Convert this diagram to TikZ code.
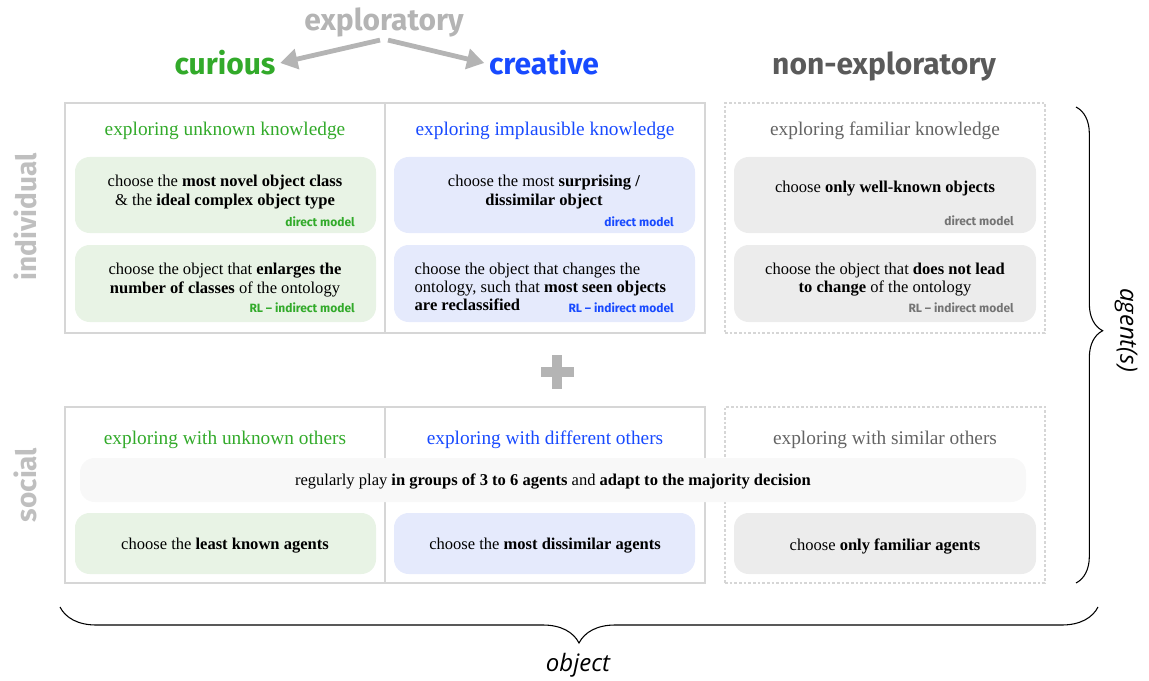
\documentclass[tikz,border=0pt]{standalone}
\usepackage{fontspec}
\setmainfont{Liberation Serif}
\setsansfont{Fira Sans}
\newfontfamily\itsans{Open Sans}
\usepackage{tikz}
\usetikzlibrary{arrows.meta}
\usetikzlibrary{fit}
\usetikzlibrary{decorations.pathreplacing}
\definecolor{cgreen}{RGB}{50,170,42}
\definecolor{cblue}{RGB}{24,74,255}
\definecolor{cgray}{RGB}{100,100,100}
\definecolor{lgray}{RGB}{180,180,180}
\definecolor{fgreen}{RGB}{232,243,229}
\definecolor{fblue}{RGB}{229,234,252}
\definecolor{fgray}{RGB}{236,236,236}
\definecolor{fpill}{RGB}{248,248,248}
\definecolor{cline}{RGB}{214,214,214}

\begin{document}
\begin{tikzpicture}[x=0.75pt,y=-0.75pt,
  cell/.style={draw=cline,line width=0.8pt,inner sep=0pt},
  dcell/.style={draw=cline,line width=0.8pt,dash pattern=on 2pt off 1.5pt,inner sep=0pt},
  pill/.style={rounded corners=11pt,inner sep=0pt},
  head/.style={font=\sffamily\bfseries\fontsize{22.5}{26}\selectfont},
  side/.style={font=\sffamily\bfseries\fontsize{21}{24}\selectfont,text=lgray!85!white},
  ttl/.style={font=\fontsize{14.5}{17}\selectfont},
  txt/.style={font=\fontsize{12.4}{13.6}\selectfont,align=center},
  mlab/.style={font=\sffamily\bfseries\fontsize{9}{10}\selectfont,anchor=east,inner sep=0pt},
  lab/.style={font=\itsans\itshape\fontsize{18}{20}\selectfont}]
\useasboundingbox (0,0) rectangle (1149,681);

\node (EX) at (384,22) [head,text=lgray] {exploratory};
\node (CU) at (225,63) [head,text=cgreen] {curious};
\node (CR) at (544,63) [head,text=cblue] {creative};
\node (NE) at (884,66) [head,text=cgray!90!black] {non-exploratory};
\draw[-{Triangle[length=13pt,width=15pt]},line width=3.6pt,lgray] ([xshift=-3pt,yshift=1pt]EX.south) -- (CU.east);
\draw[-{Triangle[length=13pt,width=15pt]},line width=3.6pt,lgray] ([xshift=3pt,yshift=1pt]EX.south) -- (CR.west);

\node (IA) [cell,fit={(65,103) (385,333)}]{};
\node (IB) [cell,fit={(385,103) (705,333)}]{};
\node (IC) [dcell,fit={(725,103) (1045,333)}]{};
\node (TIA) at (225,131) [ttl,text=cgreen] {exploring unknown knowledge};
\node (TIB) at (545,131) [ttl,text=cblue] {exploring implausible knowledge};
\node (TIC) at (885,131) [ttl,text=cgray] {exploring familiar knowledge};

\node (A1) [pill,fill=fgreen,fit={(75,157) (376,233)}]{};
\node (A2) [pill,fill=fgreen,fit={(75,245) (376,322)}]{};
\node (B1) [pill,fill=fblue,fit={(394,157) (695,233)}]{};
\node (B2) [pill,fill=fblue,fit={(394,245) (695,322)}]{};
\node (C1) [pill,fill=fgray,fit={(734,157) (1036,233)}]{};
\node (C2) [pill,fill=fgray,fit={(734,245) (1036,322)}]{};

\node (TA1) at (225,192) [txt] {choose the \textbf{most novel object class}\\ \& the \textbf{ideal complex object type}};
\node (TA2) at (225,280) [txt] {choose the object that \textbf{enlarges the}\\ \textbf{number of classes} of the ontology};
\node (TB1) at (544,192) [txt] {choose the most \textbf{surprising /}\\ \textbf{dissimilar object}};
\node (TB2) at (410,287) [txt,align=left,anchor=west] {choose the object that changes the\\ ontology, such that \textbf{most seen objects}\\ \textbf{are reclassified}};
\node (TC1) at (885,189) [txt] {choose \textbf{only well-known objects}};
\node (TC2) at (885,280) [txt] {choose the object that \textbf{does not lead}\\ \textbf{to change} of the ontology};

\node (MA1) at (355,222) [mlab,text=cgreen] {direct model};
\node (MA2) at (355,308) [mlab,text=cgreen] {RL -- indirect model};
\node (MB1) at (674,222) [mlab,text=cblue] {direct model};
\node (MB2) at (674,308) [mlab,text=cblue] {RL -- indirect model};
\node (MC1) at (1014,221) [mlab,text=cgray!90!white] {direct model};
\node (MC2) at (1014,308) [mlab,text=cgray!90!white] {RL -- indirect model};

\draw[lgray,line width=7.6pt] (541,372) -- (574,372) (557,355) -- (557,389);

\node (SA) [cell,fit={(65,407) (385,583)}]{};
\node (SB) [cell,fit={(385,407) (705,583)}]{};
\node (SC) [dcell,fit={(725,407) (1045,583)}]{};
\node (TSA) at (225,440) [ttl,text=cgreen] {exploring with unknown others};
\node (TSB) at (545,440) [ttl,text=cblue] {exploring with different others};
\node (TSC) at (885,440) [ttl,text=cgray] {exploring with similar others};

\node (GR) [pill,fill=fpill,fit={(80,458) (1026,502)}]{};
\node (TGR) at (553,481) [txt] {regularly play \textbf{in groups of 3 to 6 agents} and \textbf{adapt to the majority decision}};

\node (D1) [pill,fill=fgreen,fit={(75,513) (376,574)}]{};
\node (E1) [pill,fill=fblue,fit={(394,513) (695,574)}]{};
\node (F1) [pill,fill=fgray,fit={(734,513) (1036,574)}]{};
\node (TD1) at (225,546) [txt] {choose the \textbf{least known agents}};
\node (TE1) at (545,546) [txt] {choose the \textbf{most dissimilar agents}};
\node (TF1) at (885,546) [txt] {choose \textbf{only familiar agents}};

\node (IND) at (25,217) [side,rotate=90] {individual};
\node (SOC) at (25,485) [side,rotate=90] {social};

\coordinate (RT) at (1076,107);
\coordinate (RB) at (1076,583);
\draw[decorate,decoration={brace,amplitude=20pt,aspect=0.47},line width=0.8pt] (RT) -- (RB);
\node (AG) at (1126,330) [lab,rotate=-90] {agent(s)};

\coordinate (BL) at (60,607);
\coordinate (BR) at (1098,607);
\draw[decorate,decoration={brace,mirror,amplitude=27pt},line width=0.8pt] (BL) -- (BR);
\node (OB) at (578,665) [lab] {object};
\end{tikzpicture}
\end{document}
